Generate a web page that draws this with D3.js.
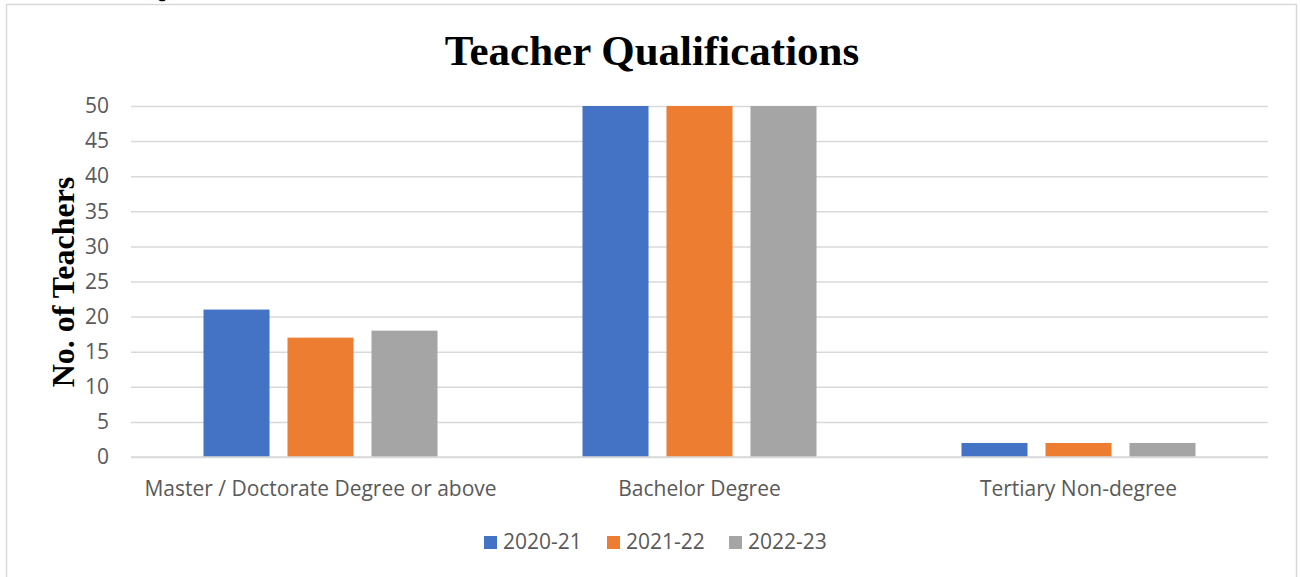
<!DOCTYPE html>
<html>
<head>
<meta charset="utf-8">
<script src="https://cdn.jsdelivr.net/npm/d3@7"></script>
<style>
  body { margin: 0; background: #fff; }
  svg { display: block; }
</style>
</head>
<body>
<svg id="chart" width="1300" height="577"></svg>
<script>
// data
let categories = ["Master / Doctorate Degree or above", "Bachelor Degree", "Tertiary Non-degree"];
let years = ["2020-21", "2021-22", "2022-23"];
let values2020 = [21, 50, 2];
let values2021 = [17, 50, 2];
let values2022 = [18, 50, 2];
let yTicks = [0, 5, 10, 15, 20, 25, 30, 35, 40, 45, 50];
let colours = ["#4472c4", "#ed7d31", "#a5a5a5"];

let labelFont = "'Open Sans', Lato, sans-serif";

function drawBarChart(holder){
	let margin = {"left": 131, "top": 106, "bottom": 120, "right": 32};
	let width = 1300;
	let height = 577;
	let svg = d3.select(holder);

	// outer frame
	svg.append("rect")
		.attr("x", 6.5).attr("y", 4.5)
		.attr("width", 1290).attr("height", 590)
		.attr("fill", "none")
		.attr("stroke", "#d9d9d9")
		.attr("stroke-width", 1.5);

	// leftover glyph of a heading above the chart
	svg.append("text")
		.attr("x", 146).attr("y", -3)
		.attr("font-family", "Liberation Serif, serif")
		.attr("font-weight", "bold")
		.attr("font-size", "26px")
		.text("Q");

	let series = years.map((y, i) => ({"name": y, "values": [values2020, values2021, values2022][i], "colour": colours[i]}));

	let x = d3.scaleBand()
		.domain(categories)
		.range([margin.left, width - margin.right]);

	let xInner = d3.scaleBand()
		.domain(years)
		.range([0, x.bandwidth()])
		.paddingInner(0.214)
		.paddingOuter(0.863);

	let y = d3.scaleLinear()
		.domain([0, 50])
		.range([height - margin.bottom, margin.top]);

	// grid
	svg.append("g").attr("class", "axisY")
		.attr("transform", `translate(${margin.left},0)`)
		.call(d3.axisLeft(y)
			.tickValues(yTicks)
			.tickSize(-(width - margin.right - margin.left))
			.tickPadding(22))
		.call(g => g.select(".domain").remove())
		.call(g => g.selectAll(".tick line")
			.attr("stroke", "#d9d9d9")
			.attr("stroke-width", 1.5))
		.call(g => g.selectAll(".tick text")
			.attr("fill", "#595959")
			.attr("font-family", labelFont)
			.attr("font-size", "21px"));

	let groups = svg.append("g")
		.selectAll("g")
		.data(series)
		.join("g")
		.attr("fill", d => d.colour);

	groups.selectAll("rect")
		.data(d => d.values.map((v, i) => ({"cat": categories[i], "name": d.name, "value": v})))
		.join("rect")
		.attr("x", d => x(d.cat) + xInner(d.name))
		.attr("y", d => y(d.value))
		.attr("width", xInner.bandwidth())
		.attr("height", d => y(0) - y(d.value));

	// baseline over bars
	svg.append("line")
		.attr("x1", margin.left).attr("x2", width - margin.right)
		.attr("y1", y(0)).attr("y2", y(0))
		.attr("stroke", "#d9d9d9")
		.attr("stroke-width", 1.5);

	svg.append("g").selectAll("text")
		.data(categories)
		.join("text")
		.attr("x", d => x(d) + x.bandwidth() / 2)
		.attr("y", 496)
		.attr("text-anchor", "middle")
		.attr("fill", "#595959")
		.attr("font-family", labelFont)
		.attr("font-size", "21px")
		.text(d => d);

	// title
	svg.append("text")
		.attr("x", 652).attr("y", 65)
		.attr("text-anchor", "middle")
		.attr("font-family", "Liberation Serif, 'Times New Roman', serif")
		.attr("font-weight", "bold")
		.attr("font-size", "43px")
		.text("Teacher Qualifications");

	svg.append("text")
		.attr("transform", "translate(74,282) rotate(-90)")
		.attr("text-anchor", "middle")
		.attr("font-family", "Liberation Serif, 'Times New Roman', serif")
		.attr("font-weight", "bold")
		.attr("font-size", "32px")
		.text("No. of Teachers");

	// legend
	let legendX = [484, 607, 729];
	let legend = svg.append("g").selectAll("g")
		.data(series)
		.join("g")
		.attr("transform", (d, i) => `translate(${legendX[i]},536)`);
	legend.append("rect")
		.attr("width", 13).attr("height", 13)
		.attr("fill", d => d.colour);
	legend.append("text")
		.attr("x", 19).attr("y", 13)
		.attr("fill", "#595959")
		.attr("font-family", labelFont)
		.attr("font-size", "21px")
		.text(d => d.name);
}

drawBarChart("#chart");
</script>
</body>
</html>
